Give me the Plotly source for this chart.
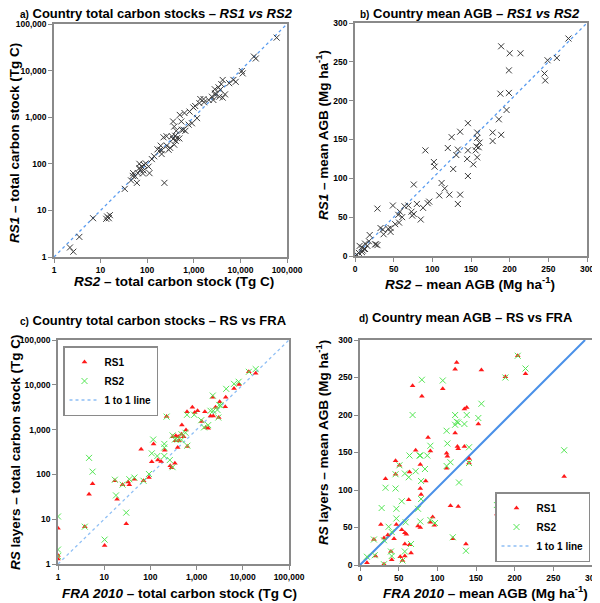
import plotly.graph_objects as go

# ---------------- DATA ----------------
# a) Country total carbon stocks (Tg C): RS2 (x) vs RS1 (y)
a_rs2 = [60000, 19500, 21400, 10700, 11200, 5750, 4170, 7940, 3890, 3390, 2820, 4680, 4170, 3550,
         2880, 2450, 2090, 2630, 1620, 1380, 1660, 1320, 1070, 980, 810, 630, 500, 540, 360, 380,
         600, 420, 660, 260, 400, 224, 360, 410, 490, 380, 263, 310, 195, 204, 166, 204, 141, 126,
         93, 85, 68, 76, 68, 71, 83, 81, 112, 63, 50, 49, 55, 60, 45, 234, 33, 15, 13.2, 13.8,
         15.8, 6.9, 3.5, 2.2, 2.6, 107, 190, 288, 339, 436, 550, 776, 912, 1175, 7080, 3700, 2900]
a_rs1 = [51000, 20000, 18200, 9800, 8700, 5370, 6300, 5750, 5130, 4370, 3980, 3090, 2630, 2750,
         3240, 2750, 2340, 2340, 2450, 2450, 2090, 2000, 1740, 1620, 1320, 1230, 1120, 810, 810, 630,
         540, 510, 510, 390, 400, 370, 340, 310, 350, 257, 245, 220, 245, 195, 204, 162, 145, 126,
         102, 95, 100, 87, 81, 74, 72, 62, 63, 63, 63, 55, 54, 39, 44, 39, 29, 6.8, 6.6, 7.4,
         7.9, 6.8, 2.7, 1.6, 1.3, 87, 200, 200, 389, 355, 537, 692, 741, 955, 6310, 3900, 3000]

# b) Country mean AGB (Mg/ha): RS2 (x) vs RS1 (y)
b_rs2 = [276, 189, 200, 214, 249, 261, 245, 246, 199, 188, 199, 196, 186, 146, 136, 125, 158, 178,
         189, 178, 158, 161, 157, 160, 156, 146, 133, 120, 131, 91, 102, 103, 127, 145, 158, 153,
         146, 112, 116, 76, 109, 122, 136, 133, 29, 49, 64, 69, 80, 88, 96, 94, 85, 58, 56, 61,
         73, 76, 74, 57, 52, 46, 46, 33, 36, 37, 43, 19, 18, 27, 29, 13, 9, 6, 12, 10, 5, 13, 2,
         9, 26, 16]
b_rs1 = [280, 270, 261, 261, 252, 255, 235, 226, 239, 209, 210, 188, 176, 171, 160, 153, 159, 159,
         156, 148, 152, 146, 141, 140, 136, 136, 137, 139, 130, 136, 121, 115, 112, 125, 127, 118,
         103, 94, 87, 92, 78, 79, 79, 67, 61, 65, 64, 65, 67, 62, 70, 68, 47, 57, 53, 50,
         57, 54, 52, 43, 41, 36, 31, 36, 34, 28, 35, 27, 19, 15, 14, 16, 11, 13, 9, 7, 4, 9, 2,
         5, 15, 13]

# c) Country total carbon stocks (Tg C): FRA 2010 (x) vs RS layers (y)
c_fra_rs1 = [13500, 19000, 8300, 6460, 4270, 3160, 4170, 2240, 3020, 2570, 2290, 2000, 1780, 1580,
             1290, 1510, 1050, 910, 810, 620, 224, 480, 590, 470, 525, 400, 355, 417, 347, 389,
             630, 302, 339, 269, 288, 204, 145, 170, 107, 117, 63, 93, 71, 45, 35, 33, 25, 17, 19,
             5.6, 4.7, 3.8, 30, 10.2, 1, 1, 1]
c_rs1 = [19500, 18200, 10200, 8300, 5250, 4170, 3240, 5250, 1860, 3160, 2000, 2000, 1070, 1120,
         1510, 2510, 2630, 2400, 3160, 2510, 1950, 1260, 980, 790, 690, 690, 725, 562, 562, 398,
         417, 692, 178, 155, 141, 347, 209, 195, 191, 479, 363, 85, 72, 78, 59, 68, 59, 72, 28,
         62, 36, 6.8, 7.9, 2.6, 6.3, 1.55, 1.3]
c_fra_rs2 = [13500, 19000, 8130, 6460, 4370, 2240, 3090, 3310, 2820, 2290, 2000, 2950, 1260, 1780,
             1450, 890, 620, 224, 575, 470, 390, 339, 470, 302, 200, 200, 141, 200, 115, 107, 263,
             302, 93, 71, 45, 35, 25, 17, 18, 30, 4.7, 5.6, 3.8, 10.2, 1, 1, 1, 630]
c_rs2 = [19500, 22400, 11700, 10500, 8130, 5750, 3550, 3470, 2750, 2630, 2630, 1860, 1620, 1260,
         1120, 2140, 2140, 1950, 850, 790, 600, 600, 590, 740, 479, 398, 257, 257, 600, 295, 209,
         145, 102, 72, 85, 78, 59, 76, 34, 14, 234, 115, 6.8, 3.5, 11.5, 2.1, 1.5, 437]

# d) Country mean AGB (Mg/ha): FRA 2010 (x) vs RS layers (y)
d_fra_rs1 = [204, 125, 123, 157, 214, 188, 68, 107, 80, 135, 138, 153, 123, 88, 135, 126, 127, 72,
             91, 112, 113, 141, 141, 51, 78, 46, 33, 46, 64, 85, 112, 78, 79, 63, 117, 127, 177,
             264, 27, 47, 36, 31, 44, 58, 60, 54, 75, 78, 94, 96, 91, 18, 20, 40, 41, 52, 55, 58,
             66, 64, 58, 120, 137, 9, 31]
d_rs1 = [279, 270, 261, 260, 255, 251, 239, 235, 225, 208, 210, 188, 176, 170, 158, 158, 155, 153,
         152, 149, 145, 142, 136, 133, 134, 139, 115, 121, 124, 112, 129, 102, 94, 87, 79, 78, 68,
         118, 54, 54, 40, 36, 35, 43, 41, 47, 52, 50, 64, 53, 57, 34, 12, 18, 7, 11, 6, 12,
         16, 27, 28, 35, 28, 3, 1]
d_fra_rs2 = [204, 214, 188, 80, 107, 68, 157, 153, 123, 125, 127, 123, 135, 138, 112, 113, 91, 77,
             78, 64, 87, 141, 117, 112, 141, 51, 46, 58, 63, 72, 84, 79, 33, 46, 79, 128, 54, 47,
             28, 75, 177, 264, 59, 47, 78, 37, 41, 31, 91, 97, 18, 9, 19, 40, 41, 55, 66, 58,
             120, 137, 31]
d_rs2 = [279, 262, 250, 247, 246, 200, 215, 196, 200, 191, 190, 187, 188, 200, 179, 162, 159, 146,
         146, 146, 146, 157, 137, 132, 136, 133, 121, 122, 117, 125, 128, 112, 103, 102, 88, 110,
         85, 75, 76, 75, 80, 153, 57, 62, 58, 51, 44, 33, 60, 56, 34, 11, 13, 18, 12, 6, 28, 18,
         37, 19, 1]

# 1 to 1 reference lines
line_log = [1, 100000]
line_lin = [0, 300]
line_d_x = [0, 291]
line_d_y = [0, 300]

log_tickvals = [1, 10, 100, 1000, 10000, 100000]
log_ticktext = ["1", "10", "100", "1,000", "10,000", "100,000"]
lin_tickvals = [0, 50, 100, 150, 200, 250, 300]

# ---------------- STYLE ----------------
FONT = "Liberation Sans, Arial, Helvetica, sans-serif"
XCOL = "#3a3a3a"
RED = "#ff1a1a"
GREEN = "#55e655"
BLUE = "#5a9cf0"
OFF = 8                      # page body margin offset (px)
W, H = 600 - OFF, 603 - OFF  # figure size so the page fits the window

fig = go.Figure()

xmark = dict(symbol="x-thin", size=6, line=dict(width=1, color=XCOL), color=XCOL)

fig.add_trace(go.Scatter(x=line_log, y=line_log, mode="lines", xaxis="x", yaxis="y",
                         line=dict(color=BLUE, width=1.3, dash="dot"), showlegend=False))
fig.add_trace(go.Scatter(x=a_rs2, y=a_rs1, mode="markers", xaxis="x", yaxis="y",
                         marker=xmark, showlegend=False))

fig.add_trace(go.Scatter(x=line_lin, y=line_lin, mode="lines", xaxis="x2", yaxis="y2",
                         line=dict(color=BLUE, width=1.3, dash="dot"), showlegend=False))
fig.add_trace(go.Scatter(x=b_rs2, y=b_rs1, mode="markers", xaxis="x2", yaxis="y2",
                         marker=xmark, showlegend=False))

# c
fig.add_trace(go.Scatter(x=line_log, y=line_log, mode="lines", xaxis="x3", yaxis="y3",
                         line=dict(color="#8fbff5", width=1.3, dash="dot"), name="1 to 1 line",
                         legend="legend", legendrank=3))
fig.add_trace(go.Scatter(x=c_fra_rs1, y=c_rs1, mode="markers", xaxis="x3", yaxis="y3",
                         marker=dict(symbol="triangle-up", size=5, color=RED), name="RS1",
                         legend="legend", legendrank=1))
fig.add_trace(go.Scatter(x=c_fra_rs2, y=c_rs2, mode="markers", xaxis="x3", yaxis="y3",
                         marker=dict(symbol="x-thin", size=6, line=dict(width=1, color=GREEN), color=GREEN),
                         name="RS2", legend="legend", legendrank=2))

# d
fig.add_trace(go.Scatter(x=line_d_x, y=line_d_y, mode="lines", xaxis="x4", yaxis="y4",
                         line=dict(color="#4a90e8", width=2), showlegend=False))
fig.add_trace(go.Scatter(x=[None], y=[None], mode="lines", xaxis="x4", yaxis="y4",
                         line=dict(color="#8fbff5", width=1.3, dash="dot"), name="1 to 1 line",
                         legend="legend2", legendrank=3))
fig.add_trace(go.Scatter(x=d_fra_rs1, y=d_rs1, mode="markers", xaxis="x4", yaxis="y4",
                         marker=dict(symbol="triangle-up", size=5, color=RED), name="RS1",
                         legend="legend2", legendrank=1))
fig.add_trace(go.Scatter(x=d_fra_rs2, y=d_rs2, mode="markers", xaxis="x4", yaxis="y4",
                         marker=dict(symbol="x-thin", size=6, line=dict(width=1, color=GREEN), color=GREEN),
                         name="RS2", legend="legend2", legendrank=2))

# convert window pixel positions to paper fractions
def fx(px):
    return (px - OFF) / W

def fy(py):
    return 1 - (py - OFF) / H

def dom_x(a, b):
    return [fx(a), fx(b)]

def dom_y(top, bot):
    return [fy(bot), fy(top)]

tickfont = dict(family=FONT, size=8.5, color="black", weight="bold")
common = dict(showgrid=False, zeroline=False, showline=True, mirror=True, linecolor="#8a8a8a",
              linewidth=1.5, ticks="outside", ticklen=4, tickcolor="#8a8a8a", tickwidth=1,
              tickfont=tickfont, automargin=False)
logax = dict(type="log", range=[0, 5], tickvals=log_tickvals, ticktext=log_ticktext, **common)
linax = dict(range=[0, 300], tickvals=lin_tickvals, **common)

legfont = dict(family=FONT, size=10, color="black", weight="bold")
fig.update_layout(
    width=W, height=H, margin=dict(l=0, r=0, t=0, b=0, autoexpand=False),
    paper_bgcolor="white", plot_bgcolor="white",
    font=dict(family=FONT, color="black"),
    xaxis=dict(domain=dom_x(54, 287), anchor="y", **logax),
    yaxis=dict(domain=dom_y(24, 257), anchor="x", **logax),
    xaxis2=dict(domain=dom_x(355, 587), anchor="y2", **linax),
    yaxis2=dict(domain=dom_y(23, 256), anchor="x2", **linax),
    xaxis3=dict(domain=dom_x(58, 289), anchor="y3", **logax),
    yaxis3=dict(domain=dom_y(340, 564), anchor="x3", **logax),
    xaxis4=dict(domain=dom_x(360, 592), anchor="y4", **linax),
    yaxis4=dict(domain=dom_y(340, 565), anchor="x4", **linax),
    legend=dict(x=fx(63), y=fy(346), xanchor="left", yanchor="top", bgcolor="white",
                bordercolor="#8a8a8a", borderwidth=1.5, itemwidth=30, tracegroupgap=0,
                font=legfont),
    legend2=dict(x=fx(590), y=fy(562), xanchor="right", yanchor="bottom", bgcolor="white",
                 bordercolor="#8a8a8a", borderwidth=1.5, itemwidth=30, tracegroupgap=0,
                 font=legfont),
)

def ann(text, x, y, size, angle=0):
    fig.add_annotation(text=text, x=fx(x), y=fy(y), xref="paper", yref="paper",
                       showarrow=False, textangle=angle, xanchor="center", yanchor="middle",
                       font=dict(family=FONT, size=size, color="black"))

# panel titles
ann("<b><span style='font-size:10px'>a)</span> Country total carbon stocks – <i>RS1 vs RS2</i></b>", 156, 14, 13)
ann("<b><span style='font-size:10px'>b)</span> Country mean AGB – <i>RS1 vs RS2</i></b>", 470, 14, 13)
ann("<b><span style='font-size:10px'>c)</span> Country total carbon stocks – RS vs FRA</b>", 153, 320, 13)
ann("<b><span style='font-size:10px'>d)</span> Country mean AGB – RS vs FRA</b>", 466, 317, 13)

# axis titles
ann("<b><i>RS2</i> – total carbon stock (Tg C)</b>", 174, 282, 13.5)
ann("<b><i>RS1</i> – total carbon stock (Tg C)</b>", 15, 143, 13.5, -90)
ann("<b><i>RS2</i> – mean AGB (Mg ha<sup>-1</sup>)</b>", 470, 283, 13.5)
ann("<b><i>RS1</i> – mean AGB (Mg ha<sup>-1</sup>)</b>", 322, 135, 13.5, -90)
ann("<b><i>FRA 2010</i> – total carbon stock (Tg C)</b>", 179, 593, 13.5)
ann("<b><i>RS</i> layers – total carbon stock (Tg C)</b>", 15, 452, 13.5, -90)
ann("<b><i>FRA 2010</i> – mean AGB (Mg ha<sup>-1</sup>)</b>", 485, 592, 13.5)
ann("<b><i>RS</i> layers – mean AGB (Mg ha<sup>-1</sup>)</b>", 322, 443, 13.5, -90)

fig.write_html("out.html")
